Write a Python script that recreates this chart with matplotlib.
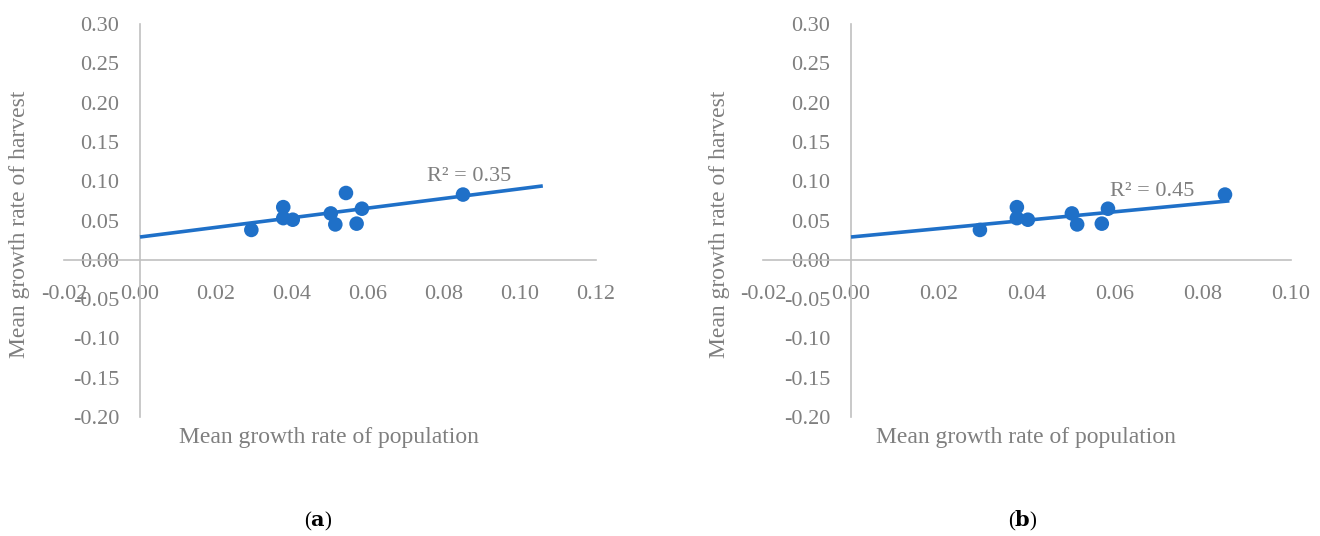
import numpy as np
import matplotlib.pyplot as plt

# panel (a) data
pop_a = [0.0293, 0.0377, 0.0377, 0.0402, 0.0502, 0.0514, 0.0542, 0.0570, 0.0584, 0.0850]
harv_a = [0.038, 0.067, 0.053, 0.051, 0.059, 0.045, 0.085, 0.046, 0.065, 0.083]
trend_a_x = [0.0, 0.106]
trend_a_y = [0.029, 0.094]
r2_a = "R² = 0.35"

# panel (b) data
pop_b = [0.0293, 0.0377, 0.0377, 0.0402, 0.0502, 0.0514, 0.0570, 0.0584, 0.0850]
harv_b = [0.038, 0.067, 0.053, 0.051, 0.059, 0.045, 0.046, 0.065, 0.083]
trend_b_x = [0.0, 0.086]
trend_b_y = [0.029, 0.075]
r2_b = "R² = 0.45"

yticks = [-0.20, -0.15, -0.10, -0.05, 0.00, 0.05, 0.10, 0.15, 0.20, 0.25, 0.30]
xticks_a = [-0.02, 0.00, 0.02, 0.04, 0.06, 0.08, 0.10, 0.12]
xticks_b = [-0.02, 0.00, 0.02, 0.04, 0.06, 0.08, 0.10]

plt.rcParams['font.family'] = ['Liberation Serif', 'DejaVu Serif']
plt.rcParams['mathtext.fontset'] = 'dejavuserif'

W, H = 1320, 536
fig = plt.figure(figsize=(W / 100, H / 100), dpi=100)

gray = '#7f7f7f'
axis_gray = '#c0c0c0'
blue = '#1f70c8'
fs = 16
fs_lab = 17


def px_axes(x0, x1, y0, y1):
    return fig.add_axes([x0 / W, 1 - y1 / H, (x1 - x0) / W, (y1 - y0) / H])


def draw_panel(ax, xs, ys, tx, ty, r2, r2_pos, xticks, xmax):
    ax.set_xlim(-0.02, xmax)
    ax.set_ylim(-0.20, 0.30)
    for s in ['top', 'right']:
        ax.spines[s].set_visible(False)
    for s in ['left', 'bottom']:
        ax.spines[s].set_position(('data', 0))
        ax.spines[s].set_color(axis_gray)
        ax.spines[s].set_linewidth(1.2)
    ax.set_xticks(xticks)
    ax.set_yticks(yticks)
    ax.set_xticklabels([f"{v:.2f}" for v in xticks])
    ax.set_yticklabels([f"{v:.2f}" for v in yticks])
    ax.tick_params(axis='both', length=0, labelsize=fs, labelcolor=gray)
    ax.tick_params(axis='x', pad=18)
    ax.tick_params(axis='y', pad=15)
    ax.patch.set_alpha(0)
    ax.plot(tx, ty, color=blue, lw=2.6, solid_capstyle='butt', zorder=3)
    ax.scatter(xs, ys, s=110, color=blue, edgecolors='none', zorder=4)
    ax.text(r2_pos[0], r2_pos[1], r2, fontsize=fs, color=gray, ha='left', va='center')


ax_a = px_axes(64, 596, 24, 417)
draw_panel(ax_a, pop_a, harv_a, trend_a_x, trend_a_y, r2_a, (0.0755, 0.106), xticks_a, 0.12)

ax_b = px_axes(763, 1291, 24, 417)
draw_panel(ax_b, pop_b, harv_b, trend_b_x, trend_b_y, r2_b, (0.0589, 0.0865), xticks_b, 0.10)

for cx in [20, 720]:
    fig.text(cx / W, 1 - 224 / H, "Mean growth rate of harvest", rotation=90,
             ha='center', va='center', fontsize=fs_lab, color=gray)
for cx in [329, 1026]:
    fig.text(cx / W, 1 - 438 / H, "Mean growth rate of population",
             ha='center', va='center', fontsize=fs_lab, color=gray)

fig.text(318 / W, 1 - 521 / H, r"($\mathbf{a}$)", ha='center', va='center', fontsize=15, color='black')
fig.text(1023 / W, 1 - 521 / H, r"($\mathbf{b}$)", ha='center', va='center', fontsize=15, color='black')

fig.savefig('out.png', dpi=100)
